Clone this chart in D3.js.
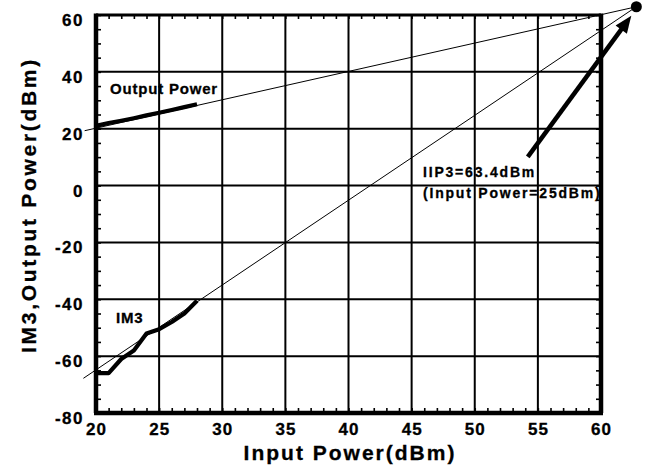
<!DOCTYPE html>
<html>
<head>
<meta charset="utf-8">
<script src="https://cdn.jsdelivr.net/npm/d3@7"></script>
<style>
  body { margin: 0; background: #fff; }
  svg text { font-family: "Liberation Sans", Arial, sans-serif; font-weight: bold; fill: #000; stroke: #000; stroke-width: 0.3px; }
</style>
</head>
<body>
<div id="chart"></div>
<script>
const inputPower = [20, 21, 22, 23, 24, 25, 26, 27, 28];
const outputPower = [21, 22, 22.8, 23.7, 24.7, 25.6, 26.6, 27.6, 28.6];
const im3 = [-66, -66, -61, -58, -52, -50.5, -48, -45, -40.5];

// extrapolated lines, both ending at the intercept point
const iip3Point = [62.8, 62.9];
const outputFit = [[19.1, 19.3], iip3Point];
const im3Fit = [[19.0, -67.8], iip3Point];

// annotation arrow (data coords)
const arrowFrom = [54.2, 10.1];
const arrowTo = [62.4, 59.7];

const xTicks = [20, 25, 30, 35, 40, 45, 50, 55, 60];
const yTicks = [-80, -60, -40, -20, 0, 20, 40, 60];
const xMinor = d3.range(20, 61, 1);
const yMinor = d3.range(-80, 61, 5);

const width = 652, height = 470;
const svg = d3.select("#chart")
  .append("svg")
  .attr("width", width)
  .attr("height", height);

const x = d3.scaleLinear().domain([20, 60]).range([96, 601]);
const y = d3.scaleLinear().domain([-80, 60]).range([413, 15]);

function drawLine(pts, w, color="#000"){
  const line = d3.line()
    .x(d => x(d[0]))
    .y(d => y(d[1]));
  svg.append("path")
    .datum(pts)
    .attr("d", line)
    .attr("fill", "none")
    .attr("stroke", color)
    .attr("stroke-width", w)
    .attr("stroke-linejoin", "round");
}

function drawText(px, py, size, text, anchor="start", spacing=0){
  return svg.append("text")
    .attr("x", px)
    .attr("y", py)
    .attr("font-size", `${size}px`)
    .attr("letter-spacing", spacing)
    .attr("text-anchor", anchor)
    .text(text);
}

// grid lines
svg.append("g")
  .selectAll("line")
  .data(xTicks.slice(1, -1))
  .join("line")
  .attr("x1", d => x(d)).attr("x2", d => x(d))
  .attr("y1", y(60)).attr("y2", y(-80))
  .attr("stroke", "#000").attr("stroke-width", 2);

svg.append("g")
  .selectAll("line")
  .data(yTicks.slice(1, -1))
  .join("line")
  .attr("x1", x(20)).attr("x2", x(60))
  .attr("y1", d => y(d)).attr("y2", d => y(d))
  .attr("stroke", "#000").attr("stroke-width", 2);

// minor ticks on all four sides, pointing inward
function minorAxis(axis, tx, ty){
  const g = svg.append("g")
    .attr("transform", `translate(${tx},${ty})`)
    .call(axis.tickFormat("").tickSizeOuter(0));
  g.select(".domain").remove();
  g.selectAll(".tick line").attr("stroke", "#000").attr("stroke-width", 1.6);
}
minorAxis(d3.axisBottom(x).tickValues(xMinor).tickSizeInner(-5), 0, y(-80));
minorAxis(d3.axisTop(x).tickValues(xMinor).tickSizeInner(-4), 0, y(60));
minorAxis(d3.axisLeft(y).tickValues(yMinor).tickSizeInner(-5), x(20), 0);
minorAxis(d3.axisRight(y).tickValues(yMinor).tickSizeInner(-5), x(60), 0);

// frame: heavier on left/bottom/right
svg.append("line").attr("x1", x(20)).attr("x2", x(60)).attr("y1", y(60)).attr("y2", y(60))
  .attr("stroke", "#000").attr("stroke-width", 3);
svg.append("line").attr("x1", x(20) - 2).attr("x2", x(60) + 2).attr("y1", y(-80)).attr("y2", y(-80))
  .attr("stroke", "#000").attr("stroke-width", 4.5);
svg.append("line").attr("x1", x(20)).attr("x2", x(20)).attr("y1", y(60) - 1.5).attr("y2", y(-80))
  .attr("stroke", "#000").attr("stroke-width", 4.5);
svg.append("line").attr("x1", x(60)).attr("x2", x(60)).attr("y1", y(60) - 1.5).attr("y2", y(-80))
  .attr("stroke", "#000").attr("stroke-width", 4.5);

// tick labels
const xLab = svg.append("g")
  .attr("transform", `translate(0,${y(-80)})`)
  .call(d3.axisBottom(x).tickValues(xTicks).tickSize(0).tickPadding(10));
xLab.select(".domain").remove();
xLab.selectAll("text")
  .attr("font-size", "17px")
  .attr("letter-spacing", 1)
  .attr("font-family", "Liberation Sans, Arial, sans-serif")
  .attr("font-weight", "bold")
  .attr("fill", "#000")
  .attr("dy", "0.71em");

yTicks.forEach(v => {
  drawText(84, y(v) + 11, 17, v, "end", 1.5);
});

// extrapolation lines (thin)
drawLine(outputFit, 1);
drawLine(im3Fit, 1);

// measured curves (thick)
drawLine(inputPower.map((d, i) => [d, outputPower[i]]), 4.2);
drawLine(inputPower.map((d, i) => [d, im3[i]]), 4.2);

// intercept point
svg.append("circle")
  .attr("cx", x(iip3Point[0]))
  .attr("cy", y(iip3Point[1]))
  .attr("r", 5.5)
  .attr("fill", "#000");

// arrow
const ax0 = x(arrowFrom[0]), ay0 = y(arrowFrom[1]);
const ax1 = x(arrowTo[0]), ay1 = y(arrowTo[1]);
const len = Math.hypot(ax1 - ax0, ay1 - ay0);
const ux = (ax1 - ax0) / len, uy = (ay1 - ay0) / len;
const headLen = 17, headW = 7;
const bx = ax1 - ux * headLen, by = ay1 - uy * headLen;
svg.append("line")
  .attr("x1", ax0).attr("y1", ay0)
  .attr("x2", bx + ux * 2).attr("y2", by + uy * 2)
  .attr("stroke", "#000").attr("stroke-width", 4.5);
svg.append("polygon")
  .attr("points", [
    [ax1, ay1],
    [bx - uy * headW, by + ux * headW],
    [bx + uy * headW, by - ux * headW]
  ].map(p => p.join(",")).join(" "))
  .attr("fill", "#000");

// annotations
drawText(110, 94, 15, "Output Power", "start", 0.8);
drawText(116, 323, 15, "IM3", "start", 0.8);
drawText(423, 177, 14, "IIP3=63.4dBm", "start", 1.8);
drawText(423, 198, 14, "(Input Power=25dBm)", "start", 1.8);

// axis titles
drawText(350, 460, 21, "Input Power(dBm)", "middle", 2);
drawText(0, 0, 21, "IM3,Output Power(dBm)", "middle", 2.7)
  .attr("transform", `translate(36,205) rotate(-90)`);
</script>
</body>
</html>
